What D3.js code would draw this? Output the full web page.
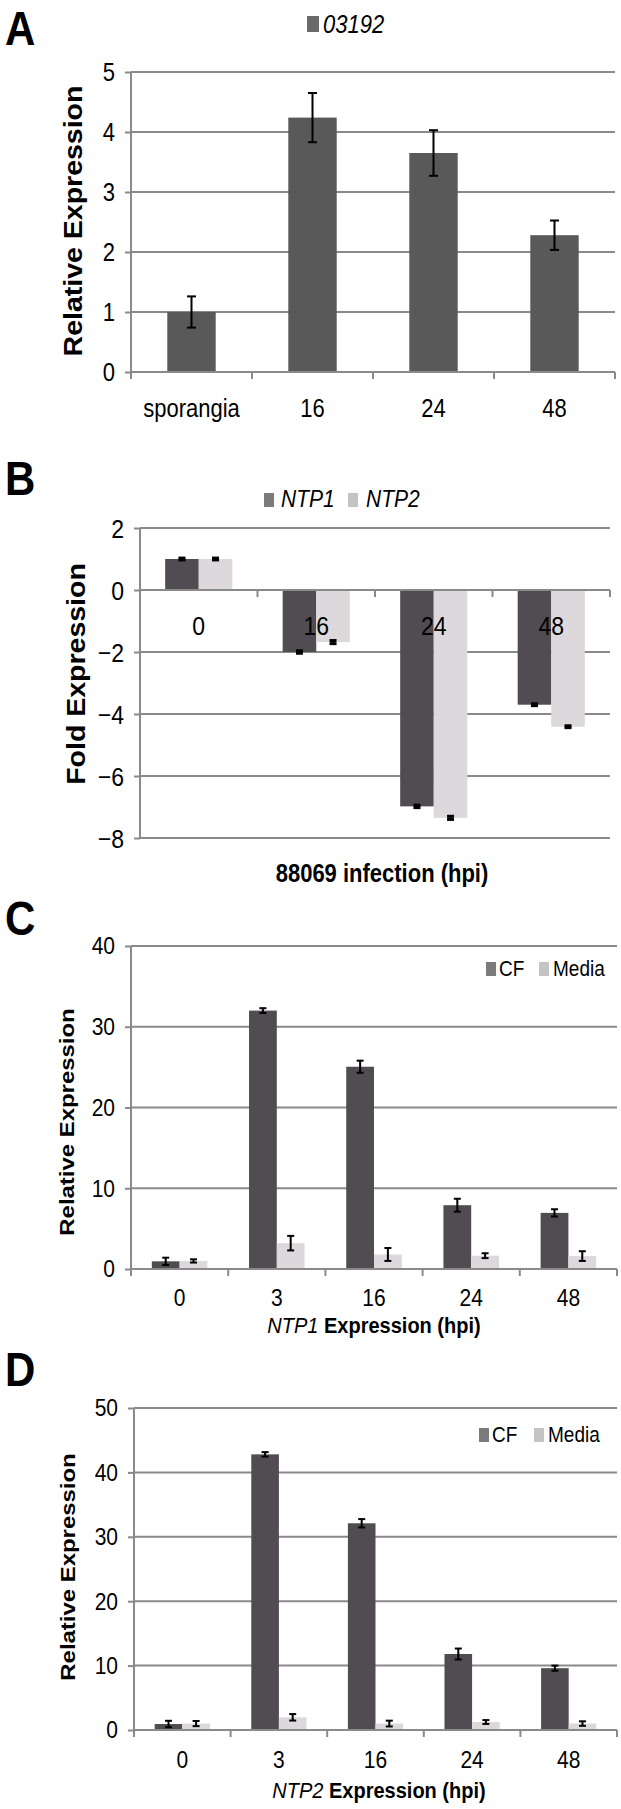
<!DOCTYPE html>
<html>
<head>
<meta charset="utf-8">
<script src="https://cdnjs.cloudflare.com/ajax/libs/d3/7.8.5/d3.min.js"></script>
<style>
  html, body { margin: 0; padding: 0; background: #ffffff; }
  svg { display: block; }
  text { font-family: "Liberation Sans", Arial, sans-serif; fill: #000; }
</style>
</head>
<body>
<svg id="chart" width="621" height="1809"></svg>
<script>
// ---------------- DATA ----------------
// Panel A
const aCategories = ["sporangia", "16", "24", "48"];
const aValues = [1.0, 4.24, 3.65, 2.28];
const aErrors = [0.26, 0.41, 0.38, 0.245];
const aTicks = [0, 1, 2, 3, 4, 5];
const aLegend = ["03192"];

// Panel B
const bCategories = ["0", "16", "24", "48"];
const bNTP1 = [1.0, -2.0, -6.98, -3.7];
const bNTP1Err = [0.03, 0.04, 0.04, 0.03];
const bNTP2 = [1.0, -1.68, -7.35, -4.41];
const bNTP2Err = [0.03, 0.05, 0.05, 0.03];
const bTicks = [2, 0, -2, -4, -6, -8];
const bLegend = ["NTP1", "NTP2"];

// Panel C
const cCategories = ["0", "3", "16", "24", "48"];
const cCF = [0.95, 32.0, 25.05, 7.9, 6.95];
const cCFErr = [0.45, 0.3, 0.75, 0.8, 0.45];
const cMedia = [1.0, 3.2, 1.8, 1.65, 1.6];
const cMediaErr = [0.2, 0.9, 0.8, 0.3, 0.6];
const cTicks = [0, 10, 20, 30, 40];

// Panel D
const dCategories = ["0", "3", "16", "24", "48"];
const dCF = [0.93, 42.8, 32.1, 11.8, 9.6];
const dCFErr = [0.5, 0.35, 0.65, 0.85, 0.4];
const dMedia = [1.0, 1.97, 1.0, 1.24, 1.0];
const dMediaErr = [0.4, 0.5, 0.45, 0.3, 0.35];
const dTicks = [0, 10, 20, 30, 40, 50];

const cdLegend = ["CF", "Media"];

// ---------------- STYLE ----------------
const K = 1.14;             // vertical stretch of the original figure
const AXIS = "#8a8a8a";
const DARK_A = "#595959";
const DARK = "#504c52";
const LIGHT = "#dcd8dc";
const LEG_DARK = "#7b7b7b";
const LEG_LIGHT = "#c4c4c4";
const LEG_A = "#6a6a6a";

const svg = d3.select("#chart");
svg.append("rect").attr("width", 621).attr("height", 1809).attr("fill", "#fff");

function txt(g, x, y, s, o = {}) {
  const t = g.append("text")
    .attr("transform", `translate(${x},${y}) scale(1,${K})` + (o.rot ? " rotate(-90)" : ""))
    .attr("text-anchor", o.anchor || "start")
    .attr("font-size", o.size || 22)
    .attr("font-weight", o.bold ? "bold" : "normal")
    .attr("font-style", o.italic ? "italic" : "normal");
  if (o.dy) t.attr("dy", o.dy);
  t.text(s);
  return t;
}

function panel(cfg) {
  const g = svg.append("g");
  const x = d3.scaleBand().domain(cfg.categories).range([cfg.left, cfg.right]).padding(0);
  const y = d3.scaleLinear().domain(cfg.domain).range(cfg.yRange);
  const bw = x.bandwidth();
  const nS = cfg.series.length;
  const barW = bw / (nS + 1.5);
  const groupOff = (bw - barW * nS) / 2;

  // gridlines
  g.append("g").selectAll("line").data(cfg.ticks.filter(t => t !== 0)).join("line")
    .attr("x1", cfg.left).attr("x2", cfg.right)
    .attr("y1", d => y(d)).attr("y2", d => y(d))
    .attr("stroke", AXIS).attr("stroke-width", 2);

  // y axis
  const ya = g.append("g").attr("transform", `translate(${cfg.left},0)`)
    .call(d3.axisLeft(y).tickValues(cfg.ticks).tickSize(6).tickPadding(cfg.tickPad || 10)
      .tickFormat(d3.format("d")));
  ya.select(".domain").attr("stroke", AXIS).attr("stroke-width", 2)
    .attr("d", `M0,${y(cfg.domain[0])}V${y(cfg.domain[1])}`);
  ya.selectAll(".tick line").attr("stroke", AXIS).attr("stroke-width", 2);
  ya.selectAll(".tick text")
    .attr("font-size", cfg.tickSize).attr("font-family", "Liberation Sans, Arial, sans-serif")
    .attr("fill", "#000").attr("dy", null)
    .attr("transform", `scale(1,${K})`).attr("y", 0).attr("dominant-baseline", "central");

  // bars
  cfg.series.forEach((s, si) => {
    g.append("g").selectAll("rect").data(s.values).join("rect")
      .attr("x", (d, i) => x(cfg.categories[i]) + groupOff + si * barW)
      .attr("width", barW)
      .attr("y", d => Math.min(y(d), y(0)))
      .attr("height", d => Math.abs(y(d) - y(0)))
      .attr("fill", s.color);
  });

  // x axis line at zero with boundary ticks
  const bounds = cfg.categories.map(c => x(c)).concat([cfg.right]);
  g.append("line").attr("x1", cfg.left).attr("x2", cfg.right)
    .attr("y1", y(0)).attr("y2", y(0)).attr("stroke", AXIS).attr("stroke-width", 2);
  g.append("g").selectAll("line").data(bounds).join("line")
    .attr("x1", d => d).attr("x2", d => d)
    .attr("y1", y(0)).attr("y2", y(0) + 7)
    .attr("stroke", AXIS).attr("stroke-width", 2);

  // error bars
  cfg.series.forEach((s, si) => {
    const eg = g.append("g");
    s.values.forEach((v, i) => {
      const cx = x(cfg.categories[i]) + groupOff + si * barW + barW / 2;
      const e = s.errors[i];
      const cw = cfg.capW;
      eg.append("line").attr("x1", cx).attr("x2", cx).attr("y1", y(v - e)).attr("y2", y(v + e))
        .attr("stroke", "#000").attr("stroke-width", 2);
      [v - e, v + e].forEach(t => {
        eg.append("line").attr("x1", cx - cw / 2).attr("x2", cx + cw / 2).attr("y1", y(t)).attr("y2", y(t))
          .attr("stroke", "#000").attr("stroke-width", cfg.capStroke || 2);
      });
    });
  });

  // x tick labels
  cfg.categories.forEach(c => {
    txt(g, x(c) + bw / 2, cfg.xLabelY, c, { anchor: "middle", size: cfg.tickSize, dy: "0.35em" });
  });

  return { g, x, y };
}

// Panel A
panel({
  categories: aCategories, domain: [0, 5], yRange: [372, 72], left: 131, right: 615,
  ticks: aTicks, tickSize: 22, xLabelY: 408, capW: 9,
  series: [{ values: aValues, errors: aErrors, color: DARK_A }]
});
// Panel B
panel({
  categories: bCategories, domain: [-8, 2], yRange: [838, 528], left: 140, right: 610,
  ticks: bTicks, tickSize: 23, xLabelY: 626, capW: 7, capStroke: 3,
  series: [{ values: bNTP1, errors: bNTP1Err, color: DARK },
           { values: bNTP2, errors: bNTP2Err, color: LIGHT }]
});
// Panel C
panel({
  categories: cCategories, domain: [0, 40], yRange: [1269, 946], left: 131, right: 617,
  ticks: cTicks, tickSize: 21, xLabelY: 1298, capW: 7,
  series: [{ values: cCF, errors: cCFErr, color: DARK },
           { values: cMedia, errors: cMediaErr, color: LIGHT }]
});
// Panel D
panel({
  categories: dCategories, domain: [0, 50], yRange: [1730, 1408], left: 134, right: 617,
  ticks: dTicks, tickSize: 21, xLabelY: 1760, capW: 7,
  series: [{ values: dCF, errors: dCFErr, color: DARK },
           { values: dMedia, errors: dMediaErr, color: LIGHT }]
});

const T = svg.append("g");
// panel letters
[["A", 45], ["B", 495], ["C", 935], ["D", 1386]].forEach(([l, yb]) => txt(T, 5, yb, l, { size: 42, bold: true }));

// y titles
txt(T, 73, 221, "Relative Expression", { rot: true, anchor: "middle", size: 25, bold: true, dy: "0.35em" });
txt(T, 76, 674, "Fold Expression", { rot: true, anchor: "middle", size: 25, bold: true, dy: "0.35em" });
txt(T, 67, 1122, "Relative Expression", { rot: true, anchor: "middle", size: 21, bold: true, dy: "0.35em" });
txt(T, 68, 1567, "Relative Expression", { rot: true, anchor: "middle", size: 21, bold: true, dy: "0.35em" });

// x titles
txt(T, 382, 873, "88069 infection (hpi)", { anchor: "middle", size: 22, bold: true, dy: "0.35em" });
function xTitle(cx, cy, gene) {
  const t = txt(T, cx, cy, "", { anchor: "middle", size: 20, dy: "0.35em" });
  t.append("tspan").attr("font-style", "italic").text(gene);
  t.append("tspan").attr("font-weight", "bold").text(" Expression (hpi)");
}
xTitle(374, 1325, "NTP1");
xTitle(379, 1790, "NTP2");

// legends
T.append("rect").attr("x", 307).attr("y", 16).attr("width", 12).attr("height", 16).attr("fill", LEG_A);
txt(T, 323, 33, aLegend[0], { size: 22, italic: true });

T.append("rect").attr("x", 264).attr("y", 493).attr("width", 10).attr("height", 14).attr("fill", LEG_DARK);
txt(T, 281, 507, bLegend[0], { size: 21, italic: true });
T.append("rect").attr("x", 348).attr("y", 493).attr("width", 10).attr("height", 14).attr("fill", LEG_LIGHT);
txt(T, 366, 507, bLegend[1], { size: 21, italic: true });

function cdLeg(x0, yb, xMedia) {
  T.append("rect").attr("x", x0).attr("y", yb - 14).attr("width", 10).attr("height", 14).attr("fill", LEG_DARK);
  txt(T, x0 + 13, yb, cdLegend[0], { size: 19 });
  T.append("rect").attr("x", xMedia).attr("y", yb - 14).attr("width", 10).attr("height", 14).attr("fill", LEG_LIGHT);
  txt(T, xMedia + 14, yb, cdLegend[1], { size: 19 });
}
cdLeg(486, 976, 539);
cdLeg(479, 1442, 534);
</script>
</body>
</html>
